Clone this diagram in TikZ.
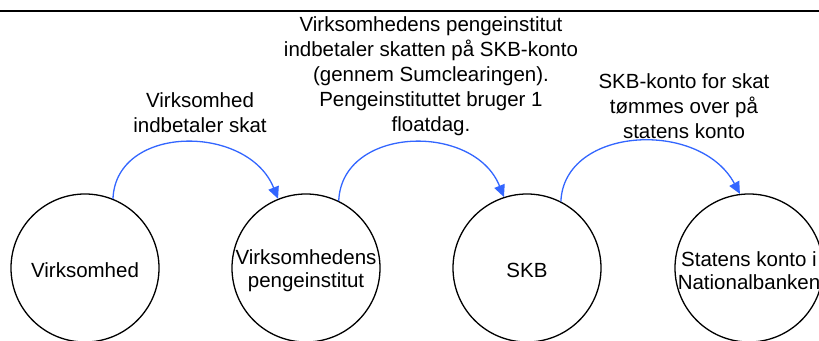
\documentclass[tikz,border=0pt]{standalone}
\usepackage{fontspec}
\setmainfont{Liberation Sans}
\usetikzlibrary{arrows.meta}
\definecolor{flowblue}{RGB}{51,102,255}
\tikzset{
  circ/.style={circle, draw=black, line width=1.3pt, minimum size=148pt, inner sep=0pt},
  ctext/.style={align=center, inner sep=0pt, font=\fontsize{20.5}{23}\selectfont},
  lbl/.style={align=center, inner sep=0pt, font=\fontsize{20.5}{25}\selectfont},
  flow/.style={draw=flowblue, line width=1.3pt, -{Triangle[length=12pt,width=11pt]}}
}
\begin{document}
\begin{tikzpicture}[x=1pt,y=-1pt]
\useasboundingbox (0,0) rectangle (819,340);
\coordinate (hl) at (0,11);
\coordinate (hr) at (819,11);
\draw[line width=1.3pt] (hl) -- (hr);

\node[circ] (c1) at (85,268) {};
\node[circ] (c2) at (306,268) {};
\node[circ] (c3) at (527,268) {};
\node[circ] (c4) at (749,268) {};

\node[ctext] (t1) at (85,270) {Virksomhed};
\node[ctext] (t2) at (306,271) {Virksomhedens\\pengeinstitut};
\node[ctext] (t3) at (527,270) {SKB};
\node[ctext] (t4) at (749,270.5) {Statens konto i\\Nationalbanken};

\node[lbl] (l1) at (200,112.5) {Virksomhed\\indbetaler skat};
\node[lbl] (l2) at (431,76) {Virksomhedens pengeinstitut\\indbetaler skatten på SKB-konto\\(gennem Sumclearingen).\\Pengeinstituttet bruger 1\\floatdag.};
\node[lbl] (l3) at (684,106) {SKB-konto for skat\\tømmes over på\\statens konto};

\draw[flow] (c1.68) .. controls +(3,-75) and +(-30,-75) .. (c2.112);
\draw[flow] (c2.64) .. controls +(3,-75) and +(-30,-75) .. (c3.108);
\draw[flow] (c3.63) .. controls +(3,-75) and +(-40,-75) .. (c4.97);
\end{tikzpicture}
\end{document}
